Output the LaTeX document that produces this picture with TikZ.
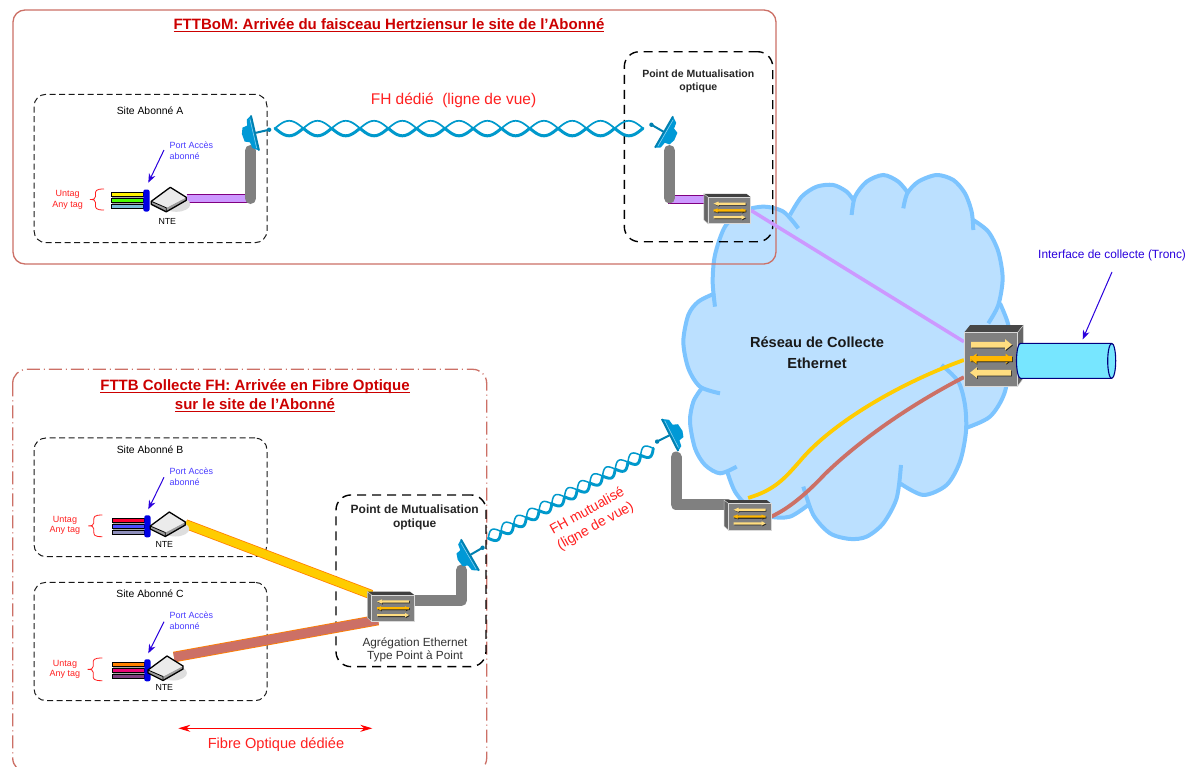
\documentclass[tikz,border=0pt]{standalone}
\usepackage{fontspec}
\setmainfont{Liberation Sans}
\newsavebox\ulbox
\newcommand\uline[1]{\sbox\ulbox{#1}\leavevmode\rlap{\raisebox{-2.6pt}{\rule{\wd\ulbox}{1.3pt}}}\usebox\ulbox}
\usetikzlibrary{arrows.meta,calc}
\pgfdeclarelayer{back}\pgfdeclarelayer{lines}
\pgfsetlayers{back,lines,main}
\definecolor{framered}{HTML}{CC7066}
\definecolor{titlered}{HTML}{CC0000}
\definecolor{labred}{HTML}{FF2020}
\definecolor{labblue}{HTML}{4A3CFF}
\definecolor{arrblue}{HTML}{2A00DD}
\definecolor{cloudfill}{HTML}{BBE0FF}
\definecolor{cloudline}{HTML}{7CC4FF}
\definecolor{wavecol}{HTML}{0099CC}
\definecolor{dishcol}{HTML}{0099D6}
\definecolor{ribcol}{HTML}{0080B0}
\definecolor{swgray}{HTML}{808080}
\definecolor{purplef}{HTML}{CC99FF}
\definecolor{purpleb}{HTML}{800080}
\definecolor{yelf}{HTML}{FFCC00}
\definecolor{orab}{HTML}{FF8000}
\definecolor{arrlight}{HTML}{FFDD80}
\definecolor{arrdark}{HTML}{FFB700}
\definecolor{cylf}{HTML}{77E6FF}
\definecolor{cyll}{HTML}{000080}
\tikzset{
 tx/.style 2 args={font=\fontsize{#1}{#2}\selectfont,inner sep=0pt,align=center},
 sitebox/.style={draw=black!90,line width=1pt,dash pattern=on 6pt off 3.5pt,rounded corners=12pt},
 pmbox/.style={draw=black,line width=1.4pt,dash pattern=on 9pt off 6pt,rounded corners=15pt},
 riser/.style={draw=swgray,line width=11pt,line cap=round,line join=round},
 fiberpurple/.style={draw=purpleb,line width=1pt,double=purplef,double distance=7.5pt},
 fiberyellow/.style={draw=orab,line width=.8pt,double=yelf,double distance=8pt},
 fiberbrown/.style={draw=orab,line width=.8pt,double=framered,double distance=9pt},
 trunk/.style={line width=3.8pt},
 blueptr/.style={draw=arrblue,line width=1pt,-{Stealth[length=9pt,width=7pt]}},
 cloudstroke/.style={draw=cloudline,line width=4pt},
}
\newcommand\SwArrow[6]{%
 \fill[black!85] ({#1+.8},{#3-#4+.8}) -- ({#2-(#5)+.8},{#3-#4+.8}) -- ({#2-(#5)+.8},{#3-2*#4+.8}) -- ({#2+.8},{#3+.8}) -- ({#2-(#5)+.8},{#3+2*#4+.8}) -- ({#2-(#5)+.8},{#3+#4+.8}) -- ({#1+.8},{#3+#4+.8}) -- cycle;
 \fill[#6] (#1,{#3-#4}) -- ({#2-(#5)},{#3-#4}) -- ({#2-(#5)},{#3-2*#4}) -- (#2,#3) -- ({#2-(#5)},{#3+2*#4}) -- ({#2-(#5)},{#3+#4}) -- (#1,{#3+#4}) -- cycle;}
\newcommand\SwDouble[6]{%
 \SwArrow{#1}{#2}{#3}{#4}{#5}{#6}%
 \SwArrow{#2}{#1}{#3}{#4}{-(#5)}{#6}}
\newcommand\smallswitch[3]{%
 \begin{scope}[shift={(#2,#3)}]
 \fill[black!75] (-21.3,-13.3) -- (-25.6,-16.6) -- (17,-16.6) -- (21.3,-13.3) -- cycle;
 \fill[black!60,draw=black!20,line width=.5pt] (-21.3,-13.3) -- (-25.6,-16.6) -- (-25.6,9.5) -- (-21.3,13.3) -- cycle;
 \node[fill=swgray,draw=black!15,line width=.7pt,minimum width=42.6pt,minimum height=26.6pt,inner sep=0pt] (#1) at (0,0) {};
 \SwArrow{16}{-16}{-6.8}{1.1}{-5}{arrlight}
 \SwDouble{-16}{16}{0}{1.1}{4}{arrdark}
 \SwArrow{-16}{16}{6.8}{1.1}{4}{arrlight}
 \end{scope}}
\newcommand\antenna[4]{%
 \begin{scope}[shift={(#2,#3)},rotate=#4]
 \fill[dishcol] (0,-18) -- (-5,-15) -- (-6,-9) -- (-11,-8) -- (-13,-2) -- (-12,6) -- (-7,8) -- (-6,14) -- (0,18) -- cycle;
 \draw[ribcol,line width=1.8pt] (0,-18) -- (0,18);
 \draw[white!60!dishcol,line width=.5pt] (-1.8,-15) -- (-1.8,15);
 \draw[ribcol,line width=2pt] (0,0) -- (13,0);
 \fill[ribcol] (14.5,0) circle (2.2pt);
 \coordinate (#1) at (17,0);
 \end{scope}}
\newcommand\nte[3]{%
 \begin{scope}[shift={(#2,#3)}]
 \fill[black!13] (8,5) ellipse (14pt and 7.5pt);
 \node[inner sep=0pt,minimum width=36pt,minimum height=24pt] (#1) at (0,0) {};
 \path[fill=black!38] (-17,2) -- (-2,8.5) -- (18,-2) -- (18,1) -- (-2,12.5) -- (-17,5) -- cycle;
 \fill[black!8] (2,-12) -- (18,-2) -- (-2,8.5) -- (-17,2) -- cycle;
 \draw[black,line width=1.3pt,line join=round] (2,-12) -- (18,-2) -- (18,1) -- (-2,12.5) -- (-17,5) -- (-17,2) -- cycle;
 \draw[black,line width=.8pt] (-17,2) -- (-2,8.5) -- (-2,12.5);
 \end{scope}}
\newcommand\portbars[6]{% x, y, port x, c1,c2,c3
 \fill[black!35] (#1,{#2-8}) rectangle (#3,{#2+8});
 \draw[black,line width=.9pt,fill=#4] (#1,{#2-8}) rectangle (#3,{#2-4});
 \draw[black,line width=.9pt,fill=#5] (#1,{#2-2}) rectangle (#3,{#2+2});
 \draw[black,line width=.9pt,fill=#6] (#1,{#2+4}) rectangle (#3,{#2+8});
 \fill[blue!90!black,rounded corners=2pt] (#3,{#2-11}) rectangle ({#3+6.2},{#2+11});}
\newcommand\redbrace[4]{%
 \pgfmathsetmacro\bm{(#3+#4)/2}\pgfmathsetmacro\bx{#1+5.5}
 \draw[labred,line width=.8pt] (#2,#3) .. controls (\bx,#3) and (\bx,{#3+2}) .. (\bx,{#3+5}) -- (\bx,{\bm-3}) .. controls (\bx,{\bm-.5}) and ({\bx-2},\bm) .. (#1,\bm) .. controls ({\bx-2},\bm) and (\bx,{\bm+.5}) .. (\bx,{\bm+3}) -- (\bx,{#4-5}) .. controls (\bx,{#4-2}) and (\bx,#4) .. (#2,#4);}
\newcommand\twist[6]{%
 \path let \p1=($(#2)-(#1)$), \n1={veclen(\x1,\y1)}, \n2={atan2(\y1,\x1)} in \pgfextra{\xdef\tlen{\n1}\xdef\tang{\n2}};
 \pgfmathsetmacro\tstep{\tlen/#3}
 \begin{scope}[shift={(#1)},rotate=\tang]
 \foreach \k in {1,...,#3}{
  \pgfmathtruncatemacro\km{\k-1}
  \pgfmathtruncatemacro\odd{mod(\k,2)}
  \ifnum\odd=1 \def\wa{#5}\def\wb{#6}\else \def\wa{#6}\def\wb{#5}\fi
  \draw[wavecol,line width=\wa,line cap=round] plot[domain=\km:\k,samples=13,smooth] ({\x*\tstep},{(#4)*sin(180*\x)});
  \draw[wavecol,line width=\wb,line cap=round] plot[domain=\km:\k,samples=13,smooth] ({\x*\tstep},{-(#4)*sin(180*\x)});
 }
 \end{scope}}
\begin{document}
\begin{tikzpicture}[x=1pt,y=-1pt]
\useasboundingbox (0,0) rectangle (1186,766);
\begin{pgfonlayer}{back}
 \fill[white] (0,0) rectangle (1186,766);
 \begin{scope}[shift={(670,165)},x=.3333pt,y=-.3333pt]
 \fill[cloudfill] plot[smooth] coordinates {(128,350)(135,270)(165,185)(215,140)(280,125)(340,140)(385,190)}
  -- plot[smooth] coordinates {(360,150)(395,95)(440,65)(490,60)(530,80)(550,105)}
  -- plot[smooth] coordinates {(545,150)(555,95)(590,50)(640,30)(685,50)(715,85)}
  -- plot[smooth] coordinates {(700,130)(712,85)(745,50)(800,30)(850,45)(885,85)(905,140)(910,195)}
  -- plot[smooth] coordinates {(910,165)(955,200)(985,260)(998,340)(985,420)}
  -- plot[smooth] coordinates {(990,415)(1015,480)(1020,560)(1005,680)(960,755)(885,790)}
  -- plot[smooth] coordinates {(888,790)(870,890)(830,960)(760,990)(690,955)}
  -- plot[smooth] coordinates {(693,900)(680,1000)(640,1075)(590,1115)(540,1122)(480,1105)(430,1050)(400,965)}
  -- plot[smooth] coordinates {(415,1020)(360,1055)(300,1055)(240,1030)(195,980)(170,915)}
  -- plot[smooth] coordinates {(170,915)(150,925)(105,900)(75,850)(60,770)(70,710)(95,670)}
  -- plot[smooth] coordinates {(95,670)(55,610)(40,530)(55,450)(85,410)(135,385)} -- cycle;
 \draw[cloudstroke] plot[smooth] coordinates {(135,425)(128,350)(135,270)(165,185)(215,140)(280,125)(340,140)(385,190)};
 \draw[cloudstroke] plot[smooth] coordinates {(360,150)(395,95)(440,65)(490,60)(530,80)(550,105)};
 \draw[cloudstroke] plot[smooth] coordinates {(545,150)(555,95)(590,50)(640,30)(685,50)(715,85)};
 \draw[cloudstroke] plot[smooth] coordinates {(700,130)(712,85)(745,50)(800,30)(850,45)(885,85)(905,140)(910,195)};
 \draw[cloudstroke] plot[smooth] coordinates {(910,165)(955,200)(985,260)(998,340)(985,420)(955,475)};
 \draw[cloudstroke] plot[smooth] coordinates {(990,415)(1015,480)(1020,560)(1005,680)(960,755)(885,790)};
 \draw[cloudstroke] plot[smooth] coordinates {(815,600)(865,650)(885,720)(888,800)(870,890)(830,960)(760,990)(690,955)};
 \draw[cloudstroke] plot[smooth] coordinates {(693,900)(680,1000)(640,1075)(590,1115)(540,1122)(480,1105)(430,1050)(400,965)};
 \draw[cloudstroke] plot[smooth] coordinates {(415,1020)(360,1055)(300,1055)(240,1030)(195,980)(170,915)};
 \draw[cloudstroke] plot[smooth] coordinates {(200,905)(150,925)(105,900)(75,850)(60,770)(70,710)(95,670)};
 \draw[cloudstroke] plot[smooth] coordinates {(150,685)(90,665)(55,610)(40,530)(55,450)(85,410)(135,385)};
 \end{scope}
 \draw[framered,line width=1.3pt,rounded corners=12pt] (13,10) rectangle (776,264);
 \draw[framered,line width=1.3pt,rounded corners=14pt,dash pattern=on 13pt off 4pt on 1pt off 4pt] (12.7,369.3) rectangle (486.7,772);
 % boxes
 \node[sitebox,minimum width=233pt,minimum height=148.4pt,inner sep=0pt] (siteA) at (150.5,168.5) {};
 \node[sitebox,minimum width=233pt,minimum height=118.7pt,inner sep=0pt] (siteB) at (150.5,497.3) {};
 \node[sitebox,minimum width=233pt,minimum height=118.4pt,inner sep=0pt] (siteC) at (150.5,641.5) {};
 \node[pmbox,minimum width=148.4pt,minimum height=190pt,inner sep=0pt] (pmA) at (698.5,146.7) {};
 \node[pmbox,minimum width=150pt,minimum height=171.7pt,inner sep=0pt] (pmB) at (411,580.8) {};
\end{pgfonlayer}
% titles
\node[tx={15}{19},text=titlered,font=\fontsize{15}{19}\selectfont\bfseries] (t1) at (389,25) {\uline{FTTBoM: Arrivée du faisceau Hertziensur le site de l’Abonné}};
\node[tx={15}{19},text=titlered,font=\fontsize{15}{19}\selectfont\bfseries] (t2) at (255,395.5) {\uline{FTTB Collecte FH: Arrivée en Fibre Optique}\\\uline{sur le site de l’Abonné}};
\node[tx={10.4}{12}] (sa) at (150,111) {Site Abonné A};
\node[tx={10.4}{12}] (sb) at (150,450) {Site Abonné B};
\node[tx={10.4}{12}] (sc) at (150,594) {Site Abonné C};
% access pieces
\portbars{111.7}{200.5}{143.3}{yellow}{green!70!yellow}{cyan!50!teal!60!white}
\portbars{112.7}{526.3}{144.3}{red!80!magenta}{blue!70!white}{blue!25!gray!70!white}
\portbars{112.7}{670.3}{144.3}{orange}{magenta!80!red}{violet!50!gray}
\nte{nteA}{168.3}{199.3}
\nte{nteB}{167.3}{524}
\nte{nteC}{165}{668}
\node[tx={8.8}{10}] (na) at (167.3,221) {NTE};
\node[tx={8.8}{10}] (nb) at (164.3,544.3) {NTE};
\node[tx={8.8}{10}] (nc) at (164.3,687.7) {NTE};
\foreach \nm/\ya/\yb/\xb/\xt/\bt/\bb in {A/145/156/104/90/189/210,B/471.7/482.7/102.3/88.3/515/536.7,C/615.7/626.7/102.3/87.7/658/680.7}{
 \node[tx={9}{11},text=labblue,align=left,anchor=west] (port\nm) at (169.3,{(\ya+\yb)/2}) {Port Accès\\abonné};
 \redbrace{\xt}{\xb}{\bt}{\bb}
}
\node[tx={9}{10.7},text=labred] (ua) at (67.7,199.5) {Untag\\Any tag};
\node[tx={9}{10.7},text=labred] (ub) at (65,525.3) {Untag\\Any tag};
\node[tx={9}{10.7},text=labred] (uc) at (65,669.3) {Untag\\Any tag};
\coordinate (pa) at (148.3,182.7);\coordinate (pb) at (148.3,509.3);\coordinate (pc) at (148.3,653.3);
\coordinate (qa) at (164,150);\coordinate (qb) at (164,477.3);\coordinate (qc) at (164,621.7);
\draw[blueptr] (qa) -- (pa);
\draw[blueptr] (qb) -- (pb);
\draw[blueptr] (qc) -- (pc);
% antennas and switches
\antenna{antA}{255}{133}{13}
\antenna{antB}{664}{132}{150}
\antenna{antC}{670}{435}{207}
\antenna{antD}{470}{555}{30}
\smallswitch{swA}{729.5}{210.5}
\smallswitch{swB}{749.6}{516.6}
\smallswitch{swC}{393}{608.3}
% big switch
\begin{scope}[shift={(991,359.2)}]
 \fill[black!72] (-26.7,-26.9) -- (-21,-34) -- (32.4,-34) -- (26.7,-26.9) -- cycle;
 \fill[black!60,draw=black!15,line width=.5pt] (26.7,-26.9) -- (32.4,-34) -- (32.4,19) -- (26.7,26.9) -- cycle;
 \node[fill=swgray,draw=black!15,line width=.8pt,minimum width=53.4pt,minimum height=53.7pt,inner sep=0pt] (swBig) at (0,0) {};
 \SwArrow{-20}{21}{-14.5}{2.8}{7}{arrlight}
 \SwDouble{-21}{21}{-.5}{2.6}{6.5}{arrdark}
 \SwArrow{20}{-21}{13.5}{2.8}{-7}{arrlight}
\end{scope}
% cylinder
\node[inner sep=0pt,minimum width=4pt,minimum height=35pt] (cylend) at (1111.7,361) {};
\draw[cyll,fill=cylf,line width=1.1pt] (1020.5,343.3) -- (1111.7,343.3) arc[start angle=90,end angle=-90,x radius=4,y radius=-17.5] -- (1020.5,378.3) arc[start angle=270,end angle=90,x radius=4,y radius=-17.5] -- cycle;
\draw[cyll,line width=1.1pt] (cylend.center) ++(0,-17.5) arc[start angle=90,end angle=270,x radius=4,y radius=-17.5];
% connectors
\coordinate (jA) at (250.5,198.5);
\coordinate (jAt) at (250.5,150.5);
\coordinate (jB) at (669.5,198);
\coordinate (jBt) at (669.5,150.5);
\coordinate (jC) at (676,504.5);
\coordinate (jCt) at (676,457);
\coordinate (jD) at (461.4,600.5);
\coordinate (jDt) at (461.4,570);
\coordinate (cIn) at (174,657);
\coordinate (cOut) at (378,620);
\coordinate (wA) at (275,128.3);
\coordinate (wB) at (643,128.3);
\coordinate (wC) at (653.3,448.3);
\coordinate (wD) at (488.3,538.3);
\begin{pgfonlayer}{lines}
 \draw[fiberpurple] (jA -| nteA.east) -- (jA);
 \draw[riser] (jAt) -- (jA);
 \draw[fiberpurple] (668,199.5) -- (706,199.5);
 \draw[riser] (jBt) -- (jB);
 \draw[riser] (jCt) -- (jC) -- (jC -| swB.west);
 \draw[riser] (jDt) -- (jD) -- (jD -| swC.east);
 \draw[fiberyellow] (nteB.east) -- (swC.north west);
 \draw[fiberbrown] (cIn) -- (cOut);
 \draw[purplef,line width=3.5pt] (swA.east) -- ($(swBig.west)+(0,-17.5)$);
 \draw[yelf,trunk] ($(swB.north)+(-1.5,-5)$) .. controls (775,490) and (785,478) .. (800,461) .. controls (830,425) and (895,385) .. ($(swBig.west)+(0,.8)$);
 \draw[framered,trunk] (swB.east) .. controls (790,508) and (808,492) .. (825,474) .. controls (860,440) and (910,405) .. ($(swBig.west)+(0,18)$);
\end{pgfonlayer}
\twist{wA}{wB}{13}{7.5}{3pt}{1.7pt}
\twist{wD}{wC}{13}{6}{2.9pt}{1.5pt}
% texts
\node[tx={10.5}{13.3},font=\fontsize{10.5}{13.3}\selectfont\bfseries,text=black!85] (pmt) at (698.3,81.6) {Point de Mutualisation\\optique};
\node[tx={12}{14},font=\fontsize{12}{14}\selectfont\bfseries,text=black!85] (pmb) at (414.7,517) {Point de Mutualisation\\optique};
\node[tx={11.8}{13.4},text=black!80] (agg) at (415,650) {Agrégation Ethernet\\Type Point à Point};
\node[tx={14}{21},font=\fontsize{14.6}{21}\selectfont\bfseries,text=black!90] (net) at (817,353.2) {Réseau de Collecte\\Ethernet};
\node[tx={15.5}{18},text=labred] (fhd) at (453.5,100) {FH dédié\ \ (ligne de vue)};
\node[tx={14}{17},text=labred,rotate=29] (fhm) at (591.5,519) {FH mutualisé\\(ligne de vue)};
\node[tx={11.9}{13},text=arrblue,anchor=west] (itf) at (1038,255) {Interface de collecte (Tronc)};
\coordinate (itfa) at (1112,272);
\coordinate (itfb) at (1082.7,339.3);
\draw[blueptr] (itfa) -- (itfb);
\coordinate (fa) at (178.3,728.3);
\coordinate (fb) at (372.3,728.3);
\draw[red,line width=1pt,{Stealth[length=12pt,width=7pt]}-{Stealth[length=12pt,width=7pt]}] (fa) -- (fb);
\node[tx={14.6}{17},text=labred] (fo) at (276,745) {Fibre Optique dédiée};
\end{tikzpicture}
\end{document}
